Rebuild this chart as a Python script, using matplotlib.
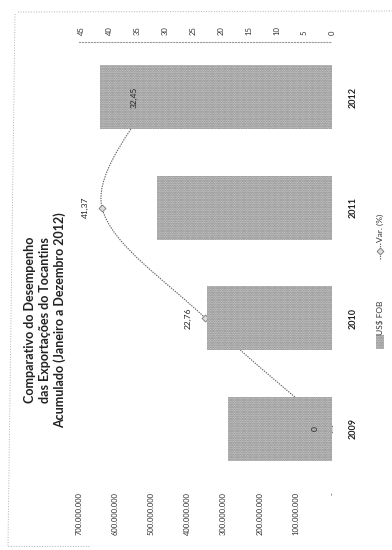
import matplotlib
matplotlib.use('Agg')
import matplotlib.pyplot as plt
from matplotlib.path import Path
from matplotlib.patches import PathPatch, Rectangle
from matplotlib.lines import Line2D

plt.rcParams['font.family'] = ['Lato', 'DejaVu Sans']
plt.rcParams['hatch.linewidth'] = 1.2

# data (chart is printed rotated 90 degrees)
years = ['2009', '2010', '2011', '2012']
fob = [288e6, 346e6, 485e6, 643e6]
var_pct = [0, 22.76, 41.37, 32.45]
var_labels = ['0', '22,76', '41,37', '32,45']
fob_ticks = [0, 1e8, 2e8, 3e8, 4e8, 5e8, 6e8, 7e8]
fob_ticklabels = ['-', '100.000.000', '200.000.000', '300.000.000', '400.000.000',
                  '500.000.000', '600.000.000', '700.000.000']
pct_ticks = [0, 5, 10, 15, 20, 25, 30, 35, 40, 45]
title = ('Comparativo do Desempenho\ndas Exportações do Tocantins\n'
         'Acumulado (Janeiro a Dezembro 2012)')

W, H = 392, 550
def fx(x):
    return x / W
def fy(y):
    return 1 - y / H

fig = plt.figure(figsize=(W / 100, H / 100), dpi=100)
fig.patch.set_facecolor('white')

rect = [fx(79), fy(484), fx(332) - fx(79), fy(42) - fy(484)]
ax_line = fig.add_axes(rect)
ax_bar = fig.add_axes(rect, sharey=ax_line)
ax_bar.patch.set_visible(False)
ax_bar.set_zorder(ax_line.get_zorder() + 1)

ypos = list(range(len(years)))

# bars
ax_bar.barh(ypos, fob, height=0.58, color='#d0d0d0', edgecolor='#858585',
            hatch='.......', linewidth=0)
ax_bar.set_xlim(7e8, 0)
ax_bar.set_ylim(-0.5, 3.5)

# smoothed variation line (bezier through the points, excel style)
pts = list(zip(var_pct, ypos))
verts = [pts[0]]
codes = [Path.MOVETO]
n = len(pts)
for i in range(n - 1):
    p0 = pts[max(i - 1, 0)]
    p1 = pts[i]
    p2 = pts[i + 1]
    p3 = pts[min(i + 2, n - 1)]
    c1 = (p1[0] + (p2[0] - p0[0]) / 6, p1[1] + (p2[1] - p0[1]) / 6)
    c2 = (p2[0] - (p3[0] - p1[0]) / 6, p2[1] - (p3[1] - p1[1]) / 6)
    verts += [c1, c2, p2]
    codes += [Path.CURVE4] * 3
ax_line.add_patch(PathPatch(Path(verts, codes), fill=False, edgecolor='#606060',
                            linewidth=0.8, linestyle=(0, (1.2, 1))))
ax_line.plot(var_pct, ypos, linestyle='none', marker='D', markersize=3.5,
             markerfacecolor='#dddddd', markeredgecolor='#777777', markeredgewidth=0.6)
ax_line.set_xlim(45.5, 0)

for v, yv, lab in zip(var_pct, ypos, var_labels):
    ax_bar.annotate(lab, xy=(v, yv), xycoords=ax_line.transData, xytext=(-17, 0),
                    textcoords='offset pixels', rotation=90, ha='center', va='center',
                    fontsize=6, color='#222222', zorder=5)

# axes styling
for a in (ax_line, ax_bar):
    for s in a.spines.values():
        s.set_visible(False)
ax_line.spines['top'].set_visible(True)
ax_line.spines['top'].set_linestyle(':')
ax_line.spines['top'].set_color('#999999')
ax_line.spines['top'].set_linewidth(0.8)

ax_line.xaxis.tick_top()
ax_line.set_xticks(pct_ticks)
ax_line.set_xticklabels([str(t) for t in pct_ticks], rotation=90, fontsize=5.5, color='#333333')
ax_line.tick_params(axis='x', length=0, pad=5)

ax_line.yaxis.tick_right()
ax_line.set_yticks(ypos)
ax_line.set_yticklabels(years, rotation=90, fontsize=6.5, fontweight='bold',
                        va='center', ha='left', color='#222222')
ax_line.tick_params(axis='y', length=0, pad=12)

ax_bar.xaxis.tick_bottom()
ax_bar.set_xticks(fob_ticks)
ax_bar.set_xticklabels(fob_ticklabels, rotation=90, fontsize=5.5, color='#333333')
ax_bar.tick_params(axis='x', length=0, pad=6)
ax_bar.yaxis.set_visible(False)

# title
fig.text(fx(45), fy(320), title, rotation=90, ha='center', va='center',
         multialignment='center', fontsize=9, fontweight='bold', color='#222222',
         linespacing=1.25)

# legend (rotated by hand)
fig.add_artist(Rectangle((fx(376), fy(349)), fx(8), fy(335) - fy(349),
                         transform=fig.transFigure, facecolor='#d0d0d0',
                         edgecolor='#858585', hatch='.......', linewidth=0))
fig.text(fx(380), fy(318), 'US$ FOB', rotation=90, ha='center', va='center',
         fontsize=6, color='#333333')
fig.add_artist(Line2D([fx(380)] * 3, [fy(259), fy(251), fy(243)], transform=fig.transFigure,
                      color='#606060', linewidth=0.8, linestyle=(0, (1.2, 1)),
                      marker='D', markersize=3.5, markevery=[1],
                      markerfacecolor='#dddddd', markeredgecolor='#777777',
                      markeredgewidth=0.6))
fig.text(fx(380), fy(228), 'Var. (%)', rotation=90, ha='center', va='center',
         fontsize=6, color='#333333')

# dotted chart frame
frame_kw = dict(transform=fig.transFigure, color='#b0b0b0', linewidth=0.7, linestyle=':')
fig.add_artist(Line2D([fx(15), fx(8)], [fy(14), fy(546)], **frame_kw))
fig.add_artist(Line2D([fx(18), fx(392)], [fy(12), fy(11)], **frame_kw))
fig.add_artist(Line2D([fx(8), fx(90)], [fy(546), fy(546)], **frame_kw))

fig.savefig('out.png', dpi=100)
